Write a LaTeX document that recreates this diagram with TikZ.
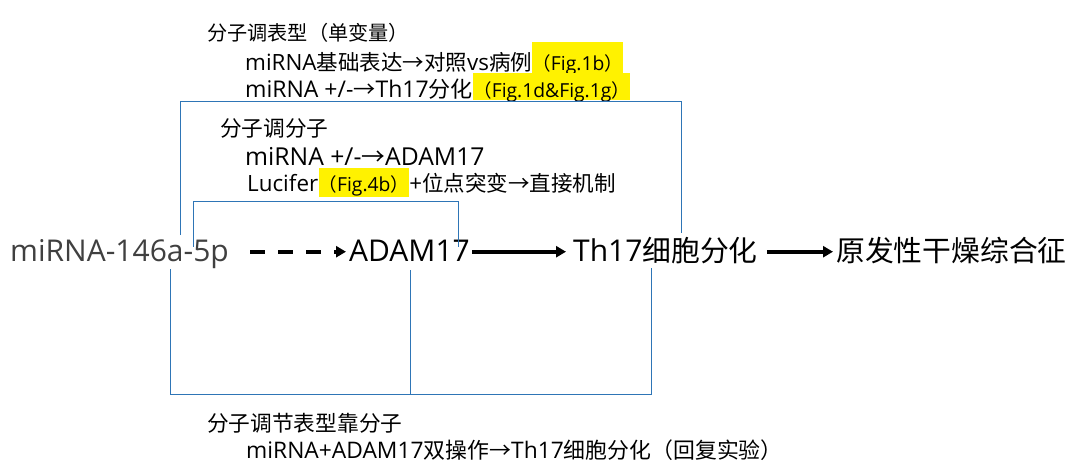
\documentclass[tikz,border=0pt]{standalone}
\usepackage{fontspec}
\setmainfont{Open Sans}
\newfontfamily\cjk[Scale=0.96]{Noto Sans CJK SC}
\usetikzlibrary{arrows.meta}
\newcommand\zh[1]{{\cjk #1}}
\definecolor{lineblue}{RGB}{46,117,182}
\definecolor{txtgray}{RGB}{64,64,64}
\begin{document}
\begin{tikzpicture}[x=1pt,y=-1pt,
  main/.style={inner sep=0pt,anchor=base west,font=\fontsize{30}{36}\selectfont,text height=25pt,text depth=5pt},
  txt/.style={inner sep=0pt,anchor=base west,font=\fontsize{22.6}{26}\selectfont},
  hl/.style={inner sep=0pt,anchor=base west,fill=yellow,font=\fontsize{19.3}{22}\selectfont},
  bk/.style={draw=lineblue,line width=1.2pt},
  flow/.style={line width=4pt,-{Triangle[length=10pt,width=11pt]}}]
\useasboundingbox (0,0) rectangle (1074,467);
% main row
\node[main,text=txtgray] (m) at (10,261.7) {miRNA-146a-5p};
\node[main] (a) at (349,261.7) {ADAM17};
\node[main] (t) at (573,261.7) {Th17\zh{细胞分化}};
\node[main] (p) at (836,261.7) {\zh{原发性干燥综合征}};
\draw[flow,dash pattern=on 15pt off 13pt] ([xshift=21pt]m.east) -- ([xshift=-3pt]a.west);
\draw[flow] ([xshift=2pt]a.east) -- ([xshift=-7pt]t.west);
\draw[flow] ([xshift=9pt]t.east) -- ([xshift=-3pt]p.west);
% top texts
\node[txt,font=\fontsize{21}{25}\selectfont] (t1) at (207,40) {\zh{分子调表型（单变量）}};
\node[txt,font=\fontsize{22.4}{26}\selectfont] (l1) at (245,70) {miRNA\zh{基础表达→对照}vs\zh{病例}};
\node[hl,text height=28.3pt,text depth=2.7pt] (h1) at (l1.base east) {\zh{（}Fig.1b\zh{）}};
\node[txt,font=\fontsize{23}{26}\selectfont] (l2) at (245,97.3) {miRNA +/-\zh{→}Th17\zh{分化}};
\node[hl,text height=24.6pt,text depth=2.7pt] (h2) at (l2.base east) {\zh{（}Fig.1d\&Fig.1g\zh{）}};
\node[txt] (t2) at (220,136.5) {\zh{分子调分子}};
\node[txt,font=\fontsize{24.7}{28}\selectfont] (l3) at (245,165) {miRNA +/-\zh{→}ADAM17};
\node[txt,font=\fontsize{22.4}{26}\selectfont] (l4) at (247,191) {Lucifer};
\node[hl,text height=23pt,text depth=5.7pt] (h3) at (l4.base east) {\zh{（}Fig.4b\zh{）}};
\node[txt,font=\fontsize{22.4}{26}\selectfont] (l4b) at (h3.base east) {+\zh{位点突变→直接机制}};
\node[txt] (t3) at (207,431) {\zh{分子调节表型靠分子}};
\node[txt,font=\fontsize{22.8}{26}\selectfont] (l5) at (246,458) {miRNA+ADAM17\zh{双操作→}Th17\zh{细胞分化（回复实验）}};
% brackets
\coordinate (o1) at (180.7,235);
\coordinate (o2) at (681.3,233);
\coordinate (i1) at (193.3,246.7);
\coordinate (i2) at (458.3,246.7);
\coordinate (b1) at (170.7,269);
\coordinate (b2) at (410.7,270);
\coordinate (b3) at (651.7,268.3);
\draw[bk] (o1) -- ++(0,-133.3) -| (o2);
\draw[bk] (i1) -- ++(0,-45) -| (i2);
\draw[bk] (b1) -- ++(0,125.3) -| (b3);
\draw[bk] (b2) -- (b2 |- 0,394.3);
\end{tikzpicture}
\end{document}
